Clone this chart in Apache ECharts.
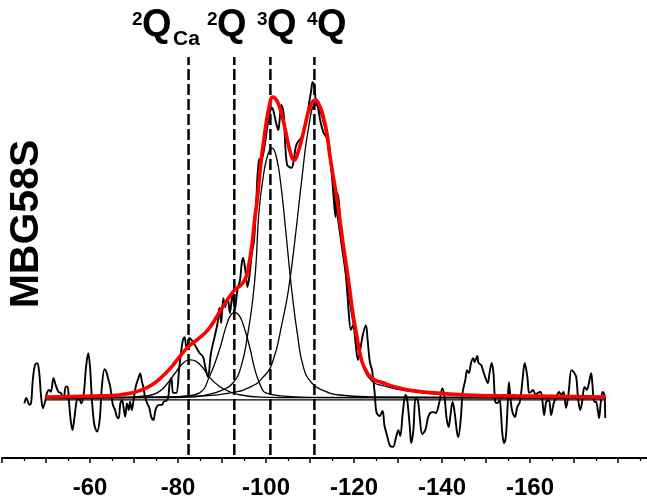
<!DOCTYPE html>
<html>
<head>
<meta charset="utf-8">
<script src="https://cdn.jsdelivr.net/npm/echarts@6/dist/echarts.min.js"></script>
<style>html,body{margin:0;padding:0;background:#fff;overflow:hidden;width:647px;height:503px;}#c{position:absolute;left:-1px;top:0;width:666px;height:503px;}</style>
</head>
<body>
<div id="c"></div>
<script>
// ---- data (ppm, intensity in arbitrary units) ----
const spectrum = [[-45.1,-1.8],[-45.5,0],[-45.9,-1.2],[-46.2,-2.3],[-46.6,-1.7],[-47.0,6.0],[-47.5,11.0],[-48.0,11.6],[-48.4,9.3],[-48.9,0.4],[-49.3,-3.4],[-49.8,-1.2],[-50.2,1.6],[-50.7,2.7],[-51.1,2.1],[-51.7,6.6],[-52.2,4.3],[-52.8,2.1],[-53.4,1.6],[-54.0,-0.1],[-54.5,3.8],[-54.9,3.8],[-55.2,-0.7],[-55.6,-7.3],[-56.0,-10.7],[-56.5,-6.2],[-57.0,-0.7],[-57.5,-0.1],[-58.0,-1.8],[-58.6,1.6],[-59.1,10.4],[-59.6,14.9],[-60.0,10.4],[-60.5,-1.8],[-61.0,-9.0],[-61.6,-11.2],[-62.2,-7.3],[-62.7,3.8],[-63.3,9.6],[-63.7,8.8],[-64.2,6.0],[-64.6,3.8],[-65.2,-2.3],[-65.7,-4.0],[-66.1,-6.2],[-66.5,-6.8],[-66.9,-1.8],[-67.3,-0.7],[-67.6,-2.9],[-68.0,-6.2],[-68.4,-1.8],[-68.8,-4.0],[-69.1,-1.2],[-69.5,-4.0],[-69.9,-0.7],[-70.4,3.8],[-71.0,6.6],[-71.4,8.2],[-71.8,5.4],[-72.1,3.8],[-72.5,0.4],[-73.0,-1.8],[-73.5,-3.4],[-73.9,-6.2],[-74.4,-7.3],[-74.8,-4.6],[-75.1,-3.1],[-75.7,-2.3],[-76.3,-2.3],[-76.8,-1.2],[-77.4,-0.9],[-77.8,0.4],[-78.1,4.9],[-78.5,6.7],[-78.9,1.7],[-79.6,1.7],[-80.3,10.3],[-81.1,19.3],[-81.5,20.3],[-81.9,17.0],[-82.3,18.3],[-82.6,20.0],[-83.4,18.7],[-84.1,17.0],[-84.9,15.0],[-85.7,13.7],[-86.2,10.3],[-86.8,7.0],[-87.5,15.0],[-88.3,20.3],[-89.0,25.0],[-89.4,30.0],[-89.8,25.0],[-90.3,33.3],[-90.7,30.3],[-91.3,33.3],[-91.8,28.3],[-92.4,35.0],[-92.9,29.3],[-93.5,36.0],[-94.1,39.3],[-94.5,45.0],[-94.8,46.7],[-95.3,42.7],[-95.8,37.0],[-96.2,40.3],[-96.8,48.3],[-97.3,52.7],[-97.8,66.0],[-98.4,79.3],[-99.2,80.3],[-100.3,90.3],[-101.0,96.0],[-101.4,96.7],[-101.8,95.0],[-102.3,91.7],[-102.8,89.3],[-103.1,92.7],[-103.5,97.7],[-104.0,95.0],[-104.4,83.7],[-104.8,77.7],[-105.3,77.0],[-105.8,76.7],[-106.3,79.3],[-106.7,83.3],[-107.1,85.0],[-107.6,86.0],[-108.0,86.7],[-108.5,88.7],[-109.3,93.7],[-109.8,98.3],[-110.3,102.7],[-110.6,105.3],[-111.0,104.3],[-111.3,99.3],[-111.8,97.0],[-112.3,92.7],[-113.0,88.7],[-113.8,86.7],[-114.3,85.0],[-114.8,77.0],[-115.3,68.3],[-115.8,60.3],[-116.2,68.3],[-116.6,65.0],[-117.0,55.0],[-117.5,49.3],[-117.9,46.0],[-118.6,32.7],[-119.3,22.7],[-119.8,24.3],[-120.4,17.7],[-120.9,12.7],[-121.4,16.0],[-122.0,21.0],[-122.7,24.3],[-123.1,19.3],[-123.6,12.0],[-124.1,9.3],[-124.7,1.7],[-125.1,-4.7],[-125.8,-6.0],[-126.5,-4.3],[-126.9,-9.0],[-127.6,-13.0],[-128.2,-16.0],[-128.9,-16.3],[-129.4,-14.0],[-130.1,-10.7],[-130.5,-12.7],[-131.1,-4.7],[-131.7,1.0],[-132.1,-0.7],[-132.7,-10.0],[-133.0,-15.0],[-133.5,-10.7],[-134.0,0],[-134.5,-0.7],[-135.0,-7.3],[-135.5,-12.0],[-136.2,-10.7],[-136.8,-6.7],[-137.3,-5.0],[-138.0,-4.7],[-138.6,-5.0],[-139.3,-2.0],[-140.1,3.3],[-140.6,0],[-141.0,-6.3],[-141.5,-9.7],[-141.9,-6.0],[-142.4,-1.3],[-142.8,-4.0],[-143.4,-11.3],[-143.7,-13.0],[-144.3,-6.3],[-144.7,2.0],[-145.3,6.0],[-145.7,9.3],[-146.1,8.3],[-146.6,11.7],[-147.1,13.3],[-147.4,12.0],[-148.0,14.0],[-148.3,11.7],[-148.9,11.0],[-149.3,9.3],[-149.8,7.0],[-150.4,5.0],[-150.8,8.3],[-151.3,11.7],[-151.7,8.3],[-152.1,-1.3],[-152.6,-1.7],[-153.1,-0.7],[-153.4,-5.0],[-153.7,-11.7],[-154.1,-15.0],[-154.5,-13.0],[-154.9,-3.0],[-155.2,5.3],[-155.6,-0.7],[-156.0,-4.7],[-156.6,-6.3],[-157.1,-3.0],[-157.7,-1.3],[-158.3,6.0],[-158.8,11.7],[-159.4,7.0],[-159.8,1.7],[-160.2,2.0],[-160.7,2.7],[-161.3,1.0],[-161.8,1.7],[-162.4,2.0],[-162.8,-0.7],[-163.2,-5.7],[-163.7,-1.3],[-164.3,-0.7],[-164.8,-5.7],[-165.4,-1.7],[-166.0,0.3],[-166.6,2.0],[-167.1,1.0],[-167.6,2.0],[-168.2,-3.3],[-168.8,2.0],[-169.4,9.3],[-169.9,8.7],[-170.5,7.0],[-170.9,0.3],[-171.4,-4.0],[-171.8,-1.7],[-172.4,3.7],[-172.9,2.7],[-173.3,4.3],[-173.9,8.3],[-174.2,4.3],[-174.6,-1.3],[-175.0,-1.3],[-175.4,-4.0],[-175.7,-6.7],[-176.1,-1.3],[-176.5,2.0],[-176.9,1.0],[-177.1,-6.7]];

const fitEnvelope = [[-49.9,0.3],[-56.0,0.5],[-62.7,0.7],[-66.6,1.0],[-69.5,1.7],[-71.8,2.7],[-74.0,4.3],[-76.3,7.0],[-78.5,10.3],[-80.1,13.3],[-82.3,17.0],[-84.6,19.7],[-86.8,22.7],[-88.9,27.3],[-90.9,32.0],[-92.7,35.7],[-94.7,38.3],[-95.6,41.0],[-96.2,45.3],[-96.8,51.0],[-97.4,59.3],[-98.0,66.0],[-98.8,77.7],[-99.5,86.0],[-100.7,97.0],[-101.6,100.3],[-102.5,99.0],[-103.3,96.0],[-104.4,89.3],[-105.5,82.0],[-106.4,79.3],[-107.3,82.0],[-108.2,86.7],[-108.9,91.0],[-110.0,97.0],[-111.2,99.3],[-112.3,97.0],[-113.2,92.7],[-113.9,87.7],[-114.5,81.0],[-115.3,73.7],[-116.1,66.7],[-116.8,59.3],[-117.5,51.7],[-118.3,43.7],[-119.1,35.3],[-119.8,27.7],[-120.6,21.0],[-121.3,15.3],[-122.2,10.7],[-124.0,6.7],[-126.7,5.0],[-130.3,3.3],[-134.1,2.3],[-138.0,1.7],[-145.4,1.0],[-156.7,0.7],[-177.2,0.3]];

const peakQ2Ca = [[-49.9,0],[-67.3,0.2],[-71.8,0.6],[-74.0,1.0],[-75.8,2.2],[-77.4,4.5],[-79.2,8.0],[-81.2,11.7],[-82.8,12.7],[-84.1,12.2],[-85.7,10.0],[-87.1,7.0],[-89.3,4.0],[-91.4,2.3],[-94.3,1.0],[-98.8,0.3],[-107.8,0.1],[-177.2,0]];

const peakQ2 = [[-49.9,0],[-78.5,0.3],[-81.9,0.7],[-84.9,1.7],[-87.1,7.0],[-89.4,16.0],[-90.9,23.7],[-92.0,27.7],[-92.9,28.5],[-93.8,27.7],[-94.7,25.0],[-96.2,17.5],[-97.7,8.3],[-99.2,2.7],[-99.9,1.7],[-103.3,0.7],[-110.0,0.2],[-177.2,0]];

const peakQ3 = [[-49.9,0],[-74.0,0.1],[-82.8,0.3],[-86.4,1.0],[-90.2,2.7],[-92.5,5.0],[-94.3,10.3],[-95.9,21.7],[-97.0,33.0],[-97.7,44.0],[-98.4,62.0],[-99.5,75.0],[-100.5,81.5],[-101.4,83.3],[-102.4,80.0],[-103.3,72.0],[-104.2,60.0],[-105.2,45.0],[-106.0,34.0],[-107.1,21.7],[-108.5,10.3],[-110.4,5.0],[-112.7,2.7],[-116.8,1.0],[-123.6,0.4],[-177.2,0]];

const peakQ4 = [[-49.9,0],[-70.0,0.3],[-85.3,0.7],[-92.0,1.7],[-96.5,3.7],[-99.2,6.7],[-101.5,12.0],[-103.7,25.3],[-105.1,36.0],[-106.7,54.3],[-108.2,73.7],[-109.7,90.3],[-111.2,97.7],[-112.7,93.7],[-114.2,82.7],[-115.7,66.0],[-117.2,50.3],[-118.7,35.0],[-120.2,21.7],[-121.8,12.0],[-124.0,5.7],[-126.9,4.0],[-130.3,2.8],[-134.8,1.9],[-141.6,1.1],[-157.3,0.5],[-177.2,0.2]];

const baseline = [[-49.9,-0.6],[-177.2,-0.6]];

const peakPositions = [-82.4, -92.8, -101.0, -111.0];
const dashRange = [-19, 113.7];

const tickLabels = [-60, -80, -100, -120, -140, -160];

const peakLabels = [
  {sup: '2', main: 'Q', sub: 'Ca', x: 133},
  {sup: '2', main: 'Q', sub: '', x: 208},
  {sup: '3', main: 'Q', sub: '', x: 258},
  {sup: '4', main: 'Q', sub: '', x: 308}
];
const sampleName = 'MBG58S';

// ---- chart ----
const FONT = '"Liberation Sans", Arial, sans-serif';
const chart = echarts.init(document.getElementById('c'), null, {renderer: 'canvas'});

const compStyle = {color: '#000', width: 1.3};
function lineSeries(data, style, z, smooth) {
  return {type: 'line', data: data, showSymbol: false, symbol: 'none', smooth: smooth,
    lineStyle: style, z: z, silent: true, animation: false};
}

const series = [];
peakPositions.forEach(function (p) {
  series.push(lineSeries([[p, dashRange[0]], [p, dashRange[1]]],
    {color: '#000', width: 2.5, type: [11, 4]}, 1, false));
});
series.push(lineSeries(baseline, {color: '#000', width: 1.2}, 2, false));
[peakQ2Ca, peakQ2, peakQ3, peakQ4].forEach(function (d) {
  series.push(lineSeries(d, compStyle, 3, 0.5));
});
series.push(lineSeries(spectrum, {color: '#000', width: 1.9}, 4, 0.35));
series.push(lineSeries(fitEnvelope, {color: '#ff0000', width: 3.6}, 5, 0.5));

const graphics = [];
peakLabels.forEach(function (l) {
  graphics.push({type: 'text', x: l.x, y: 20, style: {text: l.sup, font: 'bold 19px ' + FONT, fill: '#000', align: 'left', verticalAlign: 'middle'}});
  graphics.push({type: 'text', x: l.x + 10, y: 26, style: {text: l.main, font: 'bold 38px ' + FONT, fill: '#000', align: 'left', verticalAlign: 'middle'}});
  if (l.sub) {
    graphics.push({type: 'text', x: l.x + 41, y: 39, style: {text: l.sub, font: 'bold 21px ' + FONT, fill: '#000', align: 'left', verticalAlign: 'middle'}});
  }
});
graphics.push({type: 'text', x: 28, y: 224, rotation: Math.PI / 2,
  style: {text: sampleName, font: 'bold 41px ' + FONT, fill: '#000', align: 'center', verticalAlign: 'middle'}});

chart.setOption({
  animation: false,
  backgroundColor: '#fff',
  grid: {left: 0, right: 0, top: 38, bottom: 45, containLabel: false},
  xAxis: {
    type: 'value', min: -190, max: -40, interval: 10, inverse: true,
    axisLine: {show: true, onZero: false, lineStyle: {color: '#000', width: 2}},
    axisTick: {show: true, length: 5, lineStyle: {color: '#000', width: 1.5}},
    minorTick: {show: true, splitNumber: 2, length: 3, lineStyle: {color: '#000', width: 1.2}},
    splitLine: {show: false},
    minorSplitLine: {show: false},
    axisLabel: {
      margin: 18, fontSize: 24, fontWeight: 'bold', color: '#000', fontFamily: FONT,
      formatter: function (v) { return tickLabels.indexOf(Math.round(v)) >= 0 ? String(Math.round(v)) : ''; }
    }
  },
  yAxis: {type: 'value', min: -20, max: 120, show: false, splitLine: {show: false}},
  series: series,
  graphic: graphics
});
</script>
</body>
</html>
